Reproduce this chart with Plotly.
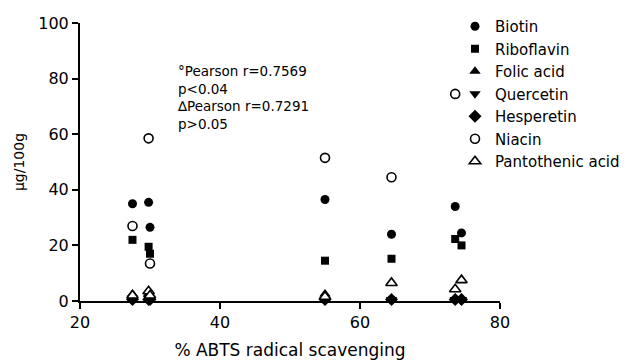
import plotly.graph_objects as go

# Sample x positions (% ABTS radical scavenging)
abts = [27.5, 29.8, 30.0, 55.0, 64.5, 73.6, 74.5]

# Vitamin / flavonoid contents (µg/100g)
biotin = [35.0, 35.5, 26.5, 36.5, 24.0, 34.0, 24.5]
riboflavin = [22.0, 19.5, 17.0, 14.5, 15.2, 22.3, 20.0]
folic_acid = [2.5, 2.5, 2.0, 2.5, 0.5, 1.0, 1.0]
quercetin = [1.0, 1.0, 1.0, 0.5, 0.5, 0.5, 0.5]
hesperetin = [0.5, 0.5, 0.5, 0.5, 0.5, 0.5, 0.5]
niacin = [27.0, 58.5, 13.5, 51.5, 44.5, 74.5, None]
pantothenic_acid = [2.0, 3.5, 2.0, 1.5, 6.5, 4.2, 7.5]

x_ticks = [20, 40, 60, 80]
y_ticks = [0, 20, 40, 60, 80, 100]

FONT = "DejaVu Sans"

series = [
    ("Biotin", biotin, "circle", 9),
    ("Riboflavin", riboflavin, "square", 8),
    ("Folic acid", folic_acid, "triangle-up", 10),
    ("Quercetin", quercetin, "triangle-down", 10),
    ("Hesperetin", hesperetin, "diamond", 10),
    ("Niacin", niacin, "circle-open", 9),
    ("Pantothenic acid", pantothenic_acid, "triangle-up-open", 10),
]

fig = go.Figure()
for name, vals, sym, size in series:
    open_ = sym.endswith("open")
    fig.add_trace(go.Scatter(
        x=abts, y=vals, mode="markers", name=name, cliponaxis=False,
        marker=dict(symbol=sym.replace("-open", ""), size=size,
                    color="white" if open_ else "black",
                    line=dict(color="black", width=1.6 if open_ else 0)),
    ))

# The page has an 8px body margin, so the figure is made 8px smaller
# and plot-area pixel positions below are page positions.
PX0, PX1, PY0, PY1 = 80, 500, 23, 301
PW, PH = PX1 - PX0, PY1 - PY0

fig.add_annotation(
    x=(175 - PX0) / PW, y=1 - (61 - PY0) / PH, xref="paper", yref="paper",
    xanchor="left", yanchor="top",
    text="°Pearson r=0.7569<br>p<0.04<br>∆Pearson r=0.7291<br>p>0.05",
    showarrow=False, align="left", font=dict(family=FONT, size=13.5, color="black"),
)

fig.update_layout(
    width=621, height=352,
    margin=dict(l=PX0 - 8, r=629 - PX1, t=PY0 - 8, b=360 - PY1, autoexpand=False),
    paper_bgcolor="white", plot_bgcolor="white",
    font=dict(family=FONT, color="black"),
    showlegend=True,
    legend=dict(x=(455 - PX0) / PW, y=1 + 13 / PH, xanchor="left", yanchor="top",
                bgcolor="rgba(0,0,0,0)", font=dict(family=FONT, size=15, color="black"),
                itemwidth=30, tracegroupgap=0),
    xaxis=dict(range=[20, 80], tickvals=x_ticks, showgrid=False, zeroline=False,
               automargin=False,
               showline=True, linecolor="black", linewidth=2,
               ticks="outside", ticklen=6, tickwidth=2, tickcolor="black",
               tickfont=dict(family=FONT, size=16, color="black"),
               title=dict(text="% ABTS radical scavenging", standoff=14,
                          font=dict(family=FONT, size=17, color="black"))),
    yaxis=dict(range=[0, 100], tickvals=y_ticks, showgrid=False, zeroline=False,
               automargin=False,
               showline=True, linecolor="black", linewidth=2,
               ticks="outside", ticklen=6, tickwidth=2, tickcolor="black",
               tickfont=dict(family=FONT, size=16, color="black"),
               title=dict(text="µg/100g", standoff=10,
                          font=dict(family=FONT, size=14, color="black"))),
)

fig.write_html("out.html")
